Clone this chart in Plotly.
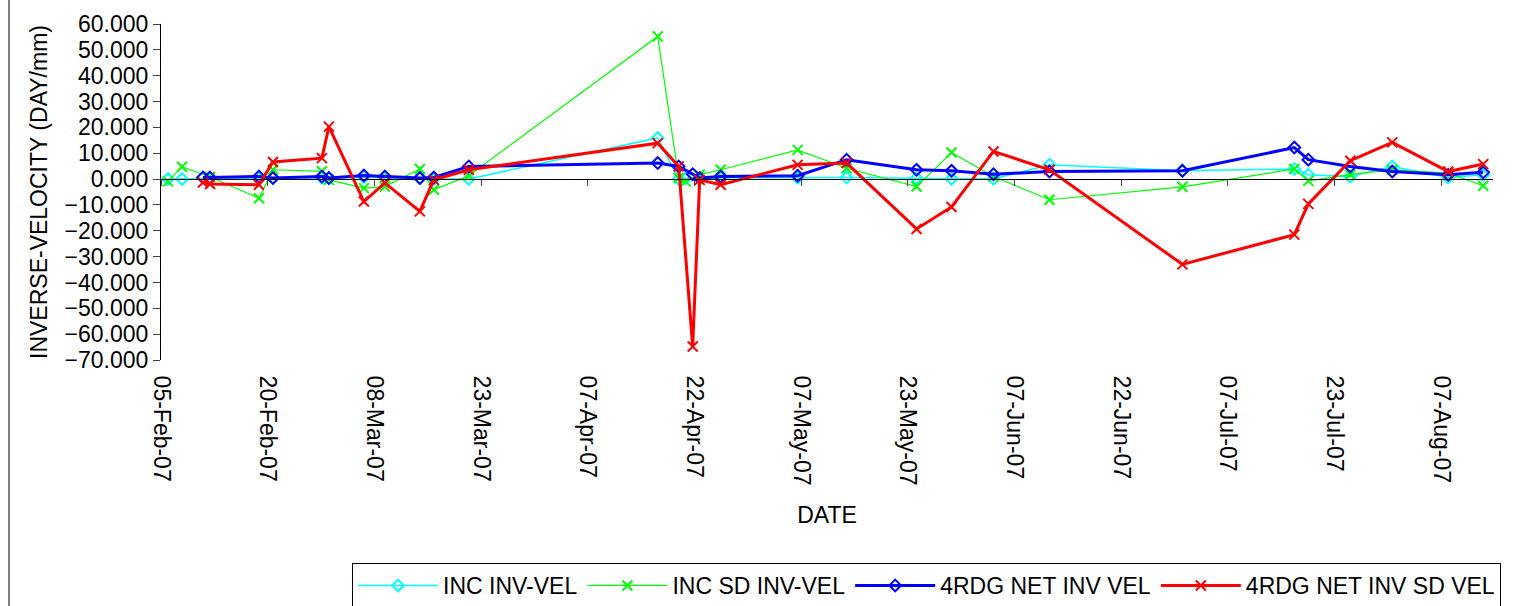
import datetime as dt
import plotly.graph_objects as go

# ---------------- data ----------------
inc_dates = ["2007-02-06", "2007-02-08", "2007-02-12", "2007-02-19", "2007-02-21",
             "2007-02-28", "2007-03-01", "2007-03-06", "2007-03-09", "2007-03-14",
             "2007-03-16", "2007-03-21", "2007-04-17", "2007-04-20", "2007-04-21",
             "2007-04-23", "2007-04-26", "2007-05-07", "2007-05-14", "2007-05-24",
             "2007-05-29", "2007-06-04", "2007-06-12", "2007-07-01", "2007-07-17",
             "2007-07-19", "2007-07-25", "2007-07-31", "2007-08-08", "2007-08-13"]
inc_inv_vel = [0.0, 0.0, 0.2, 0.3, 0.5, 0.5, 0.3, 0.8, 0.4, 0.3,
               0.0, 0.0, 15.9, 0.0, 0.3, 0.0, 0.5, 0.5, 0.6, 0.3,
               0.1, 0.1, 5.5, 3.2, 3.9, 1.7, 1.0, 4.9, 0.6, 1.7]
inc_sd_inv_vel = [-0.9, 4.8, 0.8, -7.4, 3.6, 3.0, -0.3, -3.5, -2.9, 3.9,
                  -4.1, 1.3, 55.2, 0.4, -0.9, 1.7, 3.6, 11.3, 4.2, -2.9,
                  10.3, 1.0, -8.0, -3.0, 3.9, -0.7, 1.7, 3.6, 2.3, -2.6]

rdg_dates = ["2007-02-11", "2007-02-12", "2007-02-19", "2007-02-21", "2007-02-28",
             "2007-03-01", "2007-03-06", "2007-03-09", "2007-03-14", "2007-03-16",
             "2007-03-21", "2007-04-17", "2007-04-20", "2007-04-22", "2007-04-23",
             "2007-04-26", "2007-05-07", "2007-05-14", "2007-05-24", "2007-05-29",
             "2007-06-04", "2007-06-12", "2007-07-01", "2007-07-17", "2007-07-19",
             "2007-07-25", "2007-07-31", "2007-08-08", "2007-08-13"]
rdg_net_inv_vel = [0.6, 0.6, 1.0, 0.4, 1.0, 0.4, 1.4, 1.0, 0.4, 0.6,
                   4.9, 6.2, 4.9, 1.9, 0.4, 1.0, 1.3, 7.5, 3.6, 3.2,
                   1.9, 2.9, 3.2, 12.2, 7.5, 4.9, 2.9, 1.7, 2.6]
rdg_net_inv_sd_vel = [-1.3, -1.9, -2.2, 6.6, 8.1, 20.3, -8.7, -1.5, -12.5, -0.3,
                      3.6, 13.9, 4.9, -64.8, -0.3, -2.2, 5.5, 6.2, -19.3, -10.8,
                      10.7, 3.6, -33.0, -21.5, -9.6, 7.1, 14.2, 2.9, 5.8]

x_tick_labels = ["05-Feb-07", "20-Feb-07", "08-Mar-07", "23-Mar-07", "07-Apr-07",
                 "22-Apr-07", "07-May-07", "23-May-07", "07-Jun-07", "22-Jun-07",
                 "07-Jul-07", "23-Jul-07", "07-Aug-07"]

# ---------------- axis geometry ----------------
base = dt.datetime(2007, 2, 5)
major_unit_days = 15.25
tick_vals = [base + dt.timedelta(days=k * major_unit_days) for k in range(len(x_tick_labels))]
x_range = [base, base + dt.timedelta(days=190.4)]
y_min, y_max = -70, 60

FONT = "Liberation Sans, Arial, sans-serif"
W, H = 1519, 606
ML, MR, MT, MB = 161, 26, 24, 246
PW, PH = W - ML - MR, H - MT - MB

fig = go.Figure()

fig.add_trace(go.Scatter(
    x=inc_dates, y=inc_inv_vel, name="INC INV-VEL", mode="lines+markers",
    line=dict(color="#00FFFF", width=1.5),
    marker=dict(symbol="diamond-open", size=9, color="#00FFFF",
                line=dict(color="#00FFFF", width=2))))
fig.add_trace(go.Scatter(
    x=inc_dates, y=inc_sd_inv_vel, name="INC SD INV-VEL", mode="lines+markers",
    line=dict(color="#00FF00", width=1.2),
    marker=dict(symbol="x-thin", size=10, color="#00FF00",
                line=dict(color="#00FF00", width=2))))
fig.add_trace(go.Scatter(
    x=rdg_dates, y=rdg_net_inv_vel, name="4RDG NET INV VEL", mode="lines+markers",
    line=dict(color="#0000FF", width=3),
    marker=dict(symbol="diamond-open", size=9, color="#0000FF",
                line=dict(color="#0000FF", width=2))))
fig.add_trace(go.Scatter(
    x=rdg_dates, y=rdg_net_inv_sd_vel, name="4RDG NET INV SD VEL", mode="lines+markers",
    line=dict(color="#FF0000", width=3),
    marker=dict(symbol="x-thin", size=10, color="#FF0000",
                line=dict(color="#FF0000", width=2))))
# empty trace binding the zero-crossing tick axis
fig.add_trace(go.Scatter(x=[], y=[], xaxis="x2", showlegend=False, hoverinfo="skip"))

zero_pos = (0 - y_min) / (y_max - y_min)

fig.update_layout(
    width=W, height=H,
    margin=dict(l=ML, r=MR, t=MT, b=MB, autoexpand=False),
    paper_bgcolor="white", plot_bgcolor="white",
    font=dict(family=FONT, size=23, color="black"),
    showlegend=True,
    xaxis=dict(
        type="date", range=x_range, automargin=False,
        tickmode="array", tickvals=tick_vals, ticktext=x_tick_labels,
        tickangle=90, ticks="outside", ticklen=10, tickcolor="rgba(0,0,0,0)",
        showgrid=False, zeroline=False, showline=False,
        tickfont=dict(family=FONT, size=23, color="black"),
        title=dict(text="DATE", standoff=22, font=dict(family=FONT, size=23, color="black")),
    ),
    xaxis2=dict(
        type="date", overlaying="x", matches="x", anchor="free", position=zero_pos,
        side="bottom", range=x_range, automargin=False,
        tickmode="array", tickvals=tick_vals, showticklabels=False,
        ticks="outside", ticklen=6, tickcolor="#444", tickwidth=1,
        showline=True, linecolor="black", linewidth=1,
        showgrid=False, zeroline=False,
    ),
    yaxis=dict(
        range=[y_min, y_max], dtick=10, tick0=0, tickformat=".3f", automargin=False,
        ticks="outside", ticklen=7, tickcolor="#444",
        showline=True, linecolor="black", linewidth=1,
        showgrid=False, zeroline=False,
        tickfont=dict(family=FONT, size=23, color="black"),
        title=dict(text="INVERSE-VELOCITY (DAY/mm)", standoff=10,
                   font=dict(family=FONT, size=23, color="black")),
    ),
    legend=dict(
        orientation="h", xref="paper", x=(352 - ML) / PW, xanchor="left",
        yref="container", y=(H - 563) / H, yanchor="top",
        bordercolor="black", borderwidth=1, bgcolor="white",
        font=dict(family=FONT, size=23, color="black"),
        itemwidth=80,
    ),
    shapes=[dict(type="line", xref="paper", yref="paper",
                 x0=(9 - ML) / PW, x1=(9 - ML) / PW,
                 y0=(PH + MT - H) / PH, y1=(PH + MT) / PH,
                 line=dict(color="black", width=1))],
)

fig.write_html("out.html")
